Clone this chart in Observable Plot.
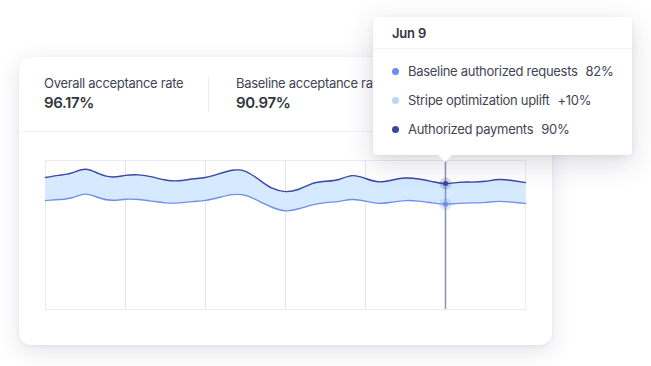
<!DOCTYPE html>
<html>
<head>
<meta charset="utf-8">
<script src="https://cdn.jsdelivr.net/npm/d3@7"></script>
<script src="https://cdn.jsdelivr.net/npm/@observablehq/plot@0.6"></script>
<style>
  html, body { margin:0; padding:0; background:#fff; width:651px; height:366px; overflow:hidden;
    font-family: Inter, "Noto Sans", sans-serif; color:#414552; }
  #card { position:absolute; left:19px; top:57px; width:533px; height:288px; background:#fff;
    border-radius:12px; box-shadow:0 6px 22px rgba(50,50,93,0.13), 0 1px 4px rgba(0,0,0,0.05); z-index:0; }
  .stat-label { position:absolute; font-size:13px; letter-spacing:-0.3px; color:#414552; white-space:nowrap; z-index:1; line-height:16px; }
  .stat-value { position:absolute; font-size:15px; font-weight:600; color:#30343c; letter-spacing:-0.4px; z-index:1; line-height:18px; }
  #vdiv { position:absolute; left:208px; top:76px; width:1px; height:36px; background:#eceef2; z-index:1; }
  #hdiv { position:absolute; left:19px; top:131px; width:533px; height:1px; background:#f2f3f6; z-index:1; }
  #chart { position:absolute; left:0; top:0; z-index:2; }
  #tip { position:absolute; left:373px; top:17px; width:259px; height:138px; background:#fff; border-radius:4px;
    box-shadow:0 8px 28px rgba(50,50,93,0.17), 0 2px 6px rgba(0,0,0,0.06); z-index:3; }
  #tip .head { position:absolute; left:19px; font-size:13px; font-weight:600; letter-spacing:-0.2px; color:#30343c; line-height:16px; }
  #tip .sep { position:absolute; left:0; top:31px; width:259px; height:1px; background:#f1f2f5; }
  #tip .row { position:absolute; left:19px; font-size:13px; letter-spacing:-0.3px; line-height:16px; white-space:nowrap; color:#414552; }
  #tip .dot { display:inline-block; width:7px; height:7px; border-radius:50%; margin-right:9px; vertical-align:1px; }
  #tip .val { margin-left:8px; }
  #arrow { position:absolute; left:437px; top:154px; width:0; height:0; border-left:8px solid transparent;
    border-right:8px solid transparent; border-top:8px solid #fff; z-index:4; }
</style>
</head>
<body>
<div id="card"></div>
<div id="hdiv"></div>
<div id="vdiv"></div>
<div id="stats"></div>
<div id="chart"></div>
<div id="tip"></div>
<div id="arrow"></div>
<script>
// ---- data ----
const startTime = "2024-06-04T00:00:00Z";
const endTime = "2024-06-10T00:00:00Z";
const gridDays = ["2024-06-04","2024-06-05","2024-06-06","2024-06-07","2024-06-08","2024-06-09","2024-06-10"];
const hoverDay = "2024-06-09";
// authorized payments (upper), every 4 hours
const upper = [92.4, 93.2, 94.2, 95.6, 93.9, 92.6, 93.2, 93.4, 92.6, 91.4, 91.1, 91.8,
               92.4, 93.8, 95.2, 94.8, 91.6, 88.2, 86.9, 87.8, 90.0, 90.9, 91.6, 93.1,
               92.0, 90.7, 91.4, 92.2, 91.8, 90.8, 90.0, 90.5, 90.6, 90.9, 91.6, 91.2, 90.4];
// baseline authorized requests (lower)
const lower = [83.4, 83.8, 84.5, 85.9, 84.5, 83.5, 83.9, 83.8, 83.2, 82.5, 82.5, 83.0,
               83.5, 84.6, 85.7, 85.4, 83.2, 80.8, 79.4, 80.2, 81.7, 82.6, 83.1, 83.8,
               83.2, 82.3, 82.8, 83.4, 83.2, 82.5, 82.0, 82.3, 82.5, 82.7, 83.1, 82.8, 82.3];
const statLabels = ["Overall acceptance rate", "Baseline acceptance rate"];
const statValues = ["96.17%", "90.97%"];
const tipTitle = "Jun 9";
const tipLabels = ["Baseline authorized requests", "Stripe optimization uplift", "Authorized payments"];
const tipValues = ["82%", "+10%", "90%"];
const tipColors = ["#6c8cef", "#b5d8fb", "#3a46a0"];

// ---- build ----
const times = d3.utcHours(new Date(startTime), d3.utcHour.offset(new Date(endTime), 1), 4);
const data = times.map((t, i) => ({t, upper: upper[i], lower: lower[i]}));
const hi = data.find(d => +d.t === +new Date(hoverDay));
const hoverPts = [
  {t: hi.t, v: hi.upper, c: "#3a46a0"},
  {t: hi.t, v: hi.lower, c: "#6c8cef"}
];

const chart = Plot.plot({
  width: 651, height: 366,
  marginLeft: 45, marginRight: 126, marginTop: 160, marginBottom: 57,
  x: {type: "utc", domain: [new Date(startTime), new Date(endTime)], axis: null},
  y: {domain: [41, 99], axis: null},
  style: {background: "transparent", overflow: "visible"},
  marks: [
    Plot.ruleX(gridDays.map(d => new Date(d)), {stroke: "#e2e5ee", strokeWidth: 1}),
    Plot.frame({stroke: "#e9ebf1", strokeWidth: 1}),
    Plot.areaY(data, {x: "t", y1: "lower", y2: "upper", fill: "#d5e9ff", curve: "natural"}),
    Plot.lineY(data, {x: "t", y: "lower", stroke: "#6e8ef0", strokeWidth: 1.4, curve: "natural"}),
    Plot.lineY(data, {x: "t", y: "upper", stroke: "#3b48a3", strokeWidth: 1.4, curve: "natural"}),
    Plot.ruleX([new Date(hoverDay)], {stroke: "#8a93b6", strokeWidth: 1.5}),
    Plot.dot(hoverPts, {x: "t", y: "v", r: 6, fill: "c", fillOpacity: 0.22}),
    Plot.dot(hoverPts, {x: "t", y: "v", r: 2.5, fill: "c"})
  ]
});
document.getElementById("chart").appendChild(chart);

// stats header
const stats = document.getElementById("stats");
const statX = [44, 236];
statLabels.forEach((lab, i) => {
  const l = document.createElement("div");
  l.className = "stat-label"; l.textContent = lab;
  l.style.left = statX[i] + "px"; l.style.top = "75px";
  stats.appendChild(l);
  const v = document.createElement("div");
  v.className = "stat-value"; v.textContent = statValues[i];
  v.style.left = statX[i] + "px"; v.style.top = "94px";
  stats.appendChild(v);
});

// tooltip
const tip = document.getElementById("tip");
const h = document.createElement("div"); h.className = "head"; h.textContent = tipTitle;
h.style.top = "8px"; tip.appendChild(h);
const s = document.createElement("div"); s.className = "sep"; tip.appendChild(s);
const rowTops = [46, 75, 104];
tipLabels.forEach((lab, i) => {
  const r = document.createElement("div");
  r.className = "row"; r.style.top = rowTops[i] + "px";
  const d = document.createElement("span"); d.className = "dot"; d.style.background = tipColors[i];
  const t = document.createElement("span"); t.textContent = lab;
  const v = document.createElement("span"); v.className = "val"; v.textContent = tipValues[i];
  r.appendChild(d); r.appendChild(t); r.appendChild(v);
  tip.appendChild(r);
});
</script>
</body>
</html>
